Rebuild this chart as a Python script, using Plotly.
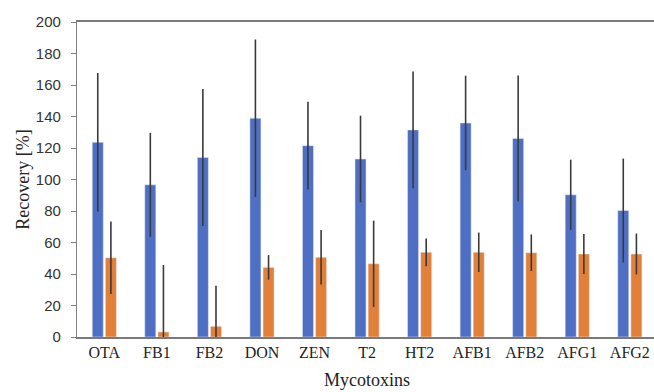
import plotly.graph_objects as go

categories = ["OTA", "FB1", "FB2", "DON", "ZEN", "T2", "HT2", "AFB1", "AFB2", "AFG1", "AFG2"]
blue_values = [123.6, 96.6, 114.0, 138.9, 121.5, 113.0, 131.5, 135.9, 126.1, 90.3, 80.3]
blue_errors = [44.0, 33.0, 43.5, 50.0, 27.8, 27.5, 37.0, 30.0, 40.0, 22.3, 33.0]
orange_values = [50.3, 3.2, 6.8, 44.2, 50.6, 46.5, 53.8, 53.8, 53.5, 52.7, 52.7]
orange_errors = [23.0, 42.5, 25.7, 7.8, 17.3, 27.4, 8.8, 12.5, 11.6, 12.7, 13.0]
y_ticks = [0, 20, 40, 60, 80, 100, 120, 140, 160, 180, 200]

err_style = dict(type="data", thickness=1.6, width=0, color="#3a3a3a")

fig = go.Figure()
fig.add_trace(go.Bar(
    x=categories, y=blue_values, marker_color="#4F6FC4",
    error_y=dict(array=blue_errors, **err_style), name="A",
))
fig.add_trace(go.Bar(
    x=categories, y=orange_values, marker_color="#E2803A",
    error_y=dict(array=orange_errors, **err_style), name="B",
))

fig.update_layout(
    width=654, height=392,
    margin=dict(l=77, r=0, t=22, b=55, autoexpand=False),
    paper_bgcolor="white", plot_bgcolor="white",
    barmode="group", bargap=0.5, bargroupgap=0.16,
    showlegend=False,
    font=dict(family="Liberation Serif", color="#222222"),
    annotations=[
        dict(text="Mycotoxins", xref="paper", yref="paper", x=0.503, y=-0.176,
             xanchor="center", yanchor="bottom", showarrow=False,
             font=dict(family="Liberation Serif", size=18, color="#222222")),
        dict(text="Recovery [%]", xref="paper", yref="paper", x=-0.095, y=0.5,
             xanchor="center", yanchor="middle", textangle=-90, showarrow=False,
             font=dict(family="Liberation Serif", size=18, color="#222222")),
    ],
)
fig.update_xaxes(
    range=[-0.52, 10.46], automargin=False,
    showgrid=False, showline=True, linecolor="#7a7a7a", linewidth=1.5, mirror=True,
    ticks="", tickfont=dict(family="Liberation Serif", size=16, color="#222222"),
)
fig.update_yaxes(
    range=[0, 200], tickvals=y_ticks, showgrid=False, zeroline=False, automargin=False,
    showline=True, linecolor="#808080", linewidth=1.2, mirror=False,
    ticks="outside", ticklen=5, tickcolor="#808080", tickwidth=1.2,
    ticklabelstandoff=7,
    tickfont=dict(family="Liberation Sans", size=15, color="#333333"),
)

fig.write_html(
    "out.html",
    config={"displayModeBar": False},
    post_script="document.body.style.margin='0';document.body.style.overflow='hidden';",
)
